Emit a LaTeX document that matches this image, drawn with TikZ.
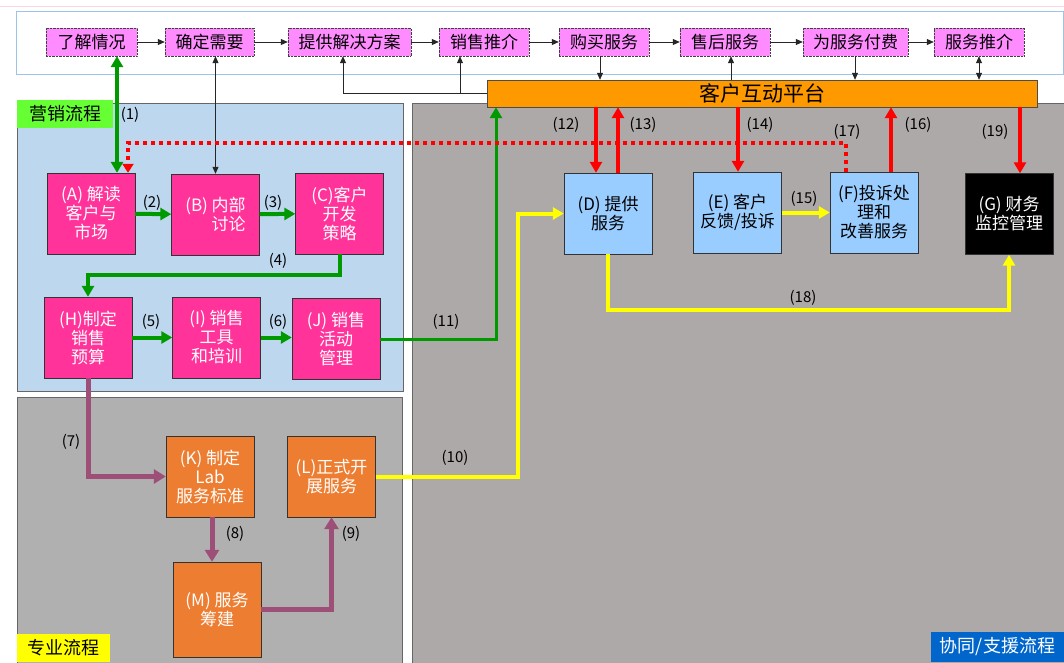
\documentclass[tikz,border=0pt]{standalone}
\usepackage{fontspec}
\setmainfont{Noto Sans CJK SC}
\usetikzlibrary{arrows.meta}

\definecolor{topfill}{HTML}{FF8CFF}
\definecolor{topframe}{HTML}{9DC3E6}
\definecolor{pinkline}{HTML}{FFD6E4}
\definecolor{mkpanel}{HTML}{BDD7EE}
\definecolor{propanel}{HTML}{B0B0B0}
\definecolor{svpanel}{HTML}{ADA9A8}
\definecolor{mkpink}{HTML}{FF3399}
\definecolor{svblue}{HTML}{99CCFF}
\definecolor{proorange}{HTML}{ED7D31}
\definecolor{platorange}{HTML}{FF9900}
\definecolor{flowgreen}{HTML}{009900}
\definecolor{flowyellow}{HTML}{FFFF00}
\definecolor{flowred}{HTML}{FF0000}
\definecolor{flowpurple}{HTML}{9E4F78}
\definecolor{taggreen}{HTML}{66FF33}
\definecolor{tagblue}{HTML}{0066CC}

\begin{document}
\begin{tikzpicture}[x=1pt,y=-1pt]
    \tikzstyle{topbox}=[draw=black!75,densely dotted,fill=topfill,minimum height=28pt,inner sep=0pt,font=\fontsize{17}{19}\selectfont]
    \tikzstyle{mbox}=[draw=black!80,fill=mkpink,text=white,minimum width=88pt,minimum height=81pt,inner sep=0pt,align=center,font=\fontsize{17}{19}\selectfont]
    \tikzstyle{sbox}=[mbox,fill=svblue,text=black]
    \tikzstyle{pbox}=[mbox,fill=proorange]
    \tikzstyle{numlabel}=[inner sep=0pt,font=\fontsize{15}{17}\selectfont]
    \tikzstyle{tag}=[inner sep=0pt,minimum height=28pt,font=\fontsize{18}{20}\selectfont]
    \tikzstyle{thin line}=[black!85,line width=0.8pt,>={Triangle[width=6pt,length=7pt]}]
    \tikzstyle{green line}=[draw=flowgreen,line width=4pt,>={Triangle[width=12pt,length=11pt]}]
    \tikzstyle{red line}=[draw=flowred,line width=4pt,>={Triangle[width=12pt,length=11pt]}]
    \tikzstyle{yellow line}=[draw=flowyellow,line width=4pt,>={Triangle[width=12pt,length=11pt]}]
    \tikzstyle{purple line}=[draw=flowpurple,line width=5pt,>={Triangle[width=14pt,length=12pt]}]

    \useasboundingbox (0,0) rectangle (1064,662);
    \fill[white] (0,0) rectangle (1064,662);
    \draw[pinkline,line width=1pt] (0,6) -- (1064,6);
    \draw[draw=topframe,fill=white] (16,11) rectangle (1063,74);
    \draw[draw=black!60,fill=mkpanel] (17,103) rectangle (403,391);
    \draw[draw=black!60,fill=propanel] (17,397) rectangle (402,672);
    \draw[draw=black!60,fill=svpanel] (412,103) rectangle (1074,672);

    \node[tag,fill=taggreen,minimum width=96pt] (mk-tag) at (65,114) {营销流程};
    \node[tag,fill=flowyellow,minimum width=93pt] (pro-tag) at (63.5,648) {专业流程};
    \node[tag,fill=tagblue,text=white,minimum width=133pt,minimum height=30pt] (sv-tag) at (997.5,647) {协同/支援流程};

    \foreach \num/\x/\w/\txt in {1/91.5/91/了解情况, 2/209.5/89/确定需要, 3/349.5/123/提供解决方案, 4/484/90/销售推介,
                                 5/604/90/购买服务, 6/725/90/售后服务, 7/855.5/105/为服务付费, 8/979/90/服务推介}
        \node[topbox,minimum width=\w pt] (T-\num) at (\x,42) {\txt};

    \foreach \from/\to in {1/2, 2/3, 3/4, 4/5, 5/6, 6/7, 7/8}
        \draw[thin line,->] (T-\from) -- (T-\to);

    \node[draw=black!70,fill=platorange,minimum width=550pt,minimum height=27pt,inner sep=0pt,font=\fontsize{21}{23}\selectfont] (plat) at (762,93.5) {客户互动平台};

    \node[mbox] (A) at (91,213.5) {(A) 解读\\客户与\\市场};
    \node[mbox,align=right] (B) at (215.5,214.5) {(B) 内部\\讨论};
    \node[mbox] (C) at (339.5,213.5) {(C)客户\\开发\\策略};
    \node[mbox] (H) at (88,337.5) {(H)制定\\销售\\预算};
    \node[mbox] (I) at (216.5,337.5) {(I) 销售\\工具\\和培训};
    \node[mbox] (J) at (336,339) {(J) 销售\\活动\\管理};
    \node[sbox] (D) at (608,213.5) {(D) 提供\\服务};
    \node[sbox] (E) at (737.5,212.5) {(E) 客户\\反馈/投诉};
    \node[sbox] (F) at (874,212.5) {(F)投诉处\\理和\\改善服务};
    \node[sbox,fill=black,text=white] (G) at (1009,214) {(G) 财务\\监控管理};
    \node[pbox] (K) at (210,476.5) {(K) 制定\\Lab\\服务标准};
    \node[pbox] (L) at (331.5,476.5) {(L)正式开\\展服务};
    \node[pbox,minimum height=95pt] (M) at (217,609.5) {(M) 服务\\筹建};

    \draw[thin line,<->] (B.north |- T-2.south) -- (B.north);
    \draw[thin line,->] (plat.west) -| (343,0 |- T-3.south);
    \draw[thin line,->] (460,0 |- plat.west) -- (460,0 |- T-4.south);
    \draw[thin line,->] (600,0 |- T-5.south) -- (600,0 |- plat.north);
    \draw[thin line,->] (731,0 |- plat.north) -- (731,0 |- T-6.south);
    \draw[thin line,->] (855,0 |- T-7.south) -- (855,0 |- plat.north);
    \draw[thin line,<->] (979,0 |- T-8.south) -- (979,0 |- plat.north);

    \draw[green line,<->] (117,0 |- T-1.south) -- (117,0 |- A.north);
    \draw[green line,->] (A) -- (B);
    \draw[green line,->] (B) -- (C);
    \draw[green line,->] (C.south) -- ++(0,21) -| (H.north);
    \draw[green line,->] (H) -- (I);
    \draw[green line,->] (I.east) -- (I.east -| J.west);
    \draw[green line,line width=3pt,->] (J.east) -| (496,0 |- plat.south);

    \draw[purple line,->] (H.south) |- (K.west);
    \draw[purple line,->] (212,0 |- K.south) -- (212,0 |- M.north);
    \draw[purple line,->] (M.east) -| (L.south);

    \coordinate (y10) at (518,0);
    \draw[yellow line,->] (L.east) -| (D.west -| y10) -- (D.west);
    \draw[yellow line,->] (E) -- (F);
    \draw[yellow line,->] (D.south) -- ++(0,56) -| (G.south);

    \coordinate (r17) at (128,143);
    \draw[red line,->] (596,0 |- plat.south) -- (596,0 |- D.north);
    \draw[red line,->] (618,0 |- D.north) -- (618,0 |- plat.south);
    \draw[red line,->] (738,0 |- plat.south) -- (738,0 |- E.north);
    \draw[red line,->] (891,0 |- F.north) -- (891,0 |- plat.south);
    \draw[red line,->] (1020,0 |- plat.south) -- (1020,0 |- G.north);
    \draw[red line,dash pattern=on 4pt off 4pt,>={Triangle[width=11pt,length=9pt]},->] (846,0 |- F.north) |- (r17) -- (r17 |- A.north);

    \foreach \num/\x/\y in {1/130/115, 2/152/203, 3/273/203, 4/278/261, 5/151/322, 6/278/322, 7/71/442,
                            8/235/534, 9/351/534, 10/455/458, 11/446/322, 12/566/125, 13/643/125,
                            14/760/125, 15/804/199, 16/918/125, 17/847/132, 18/803/298, 19/995/132}
        \node[numlabel] (n-\num) at (\x,\y) {(\num)};
\end{tikzpicture}
\end{document}
